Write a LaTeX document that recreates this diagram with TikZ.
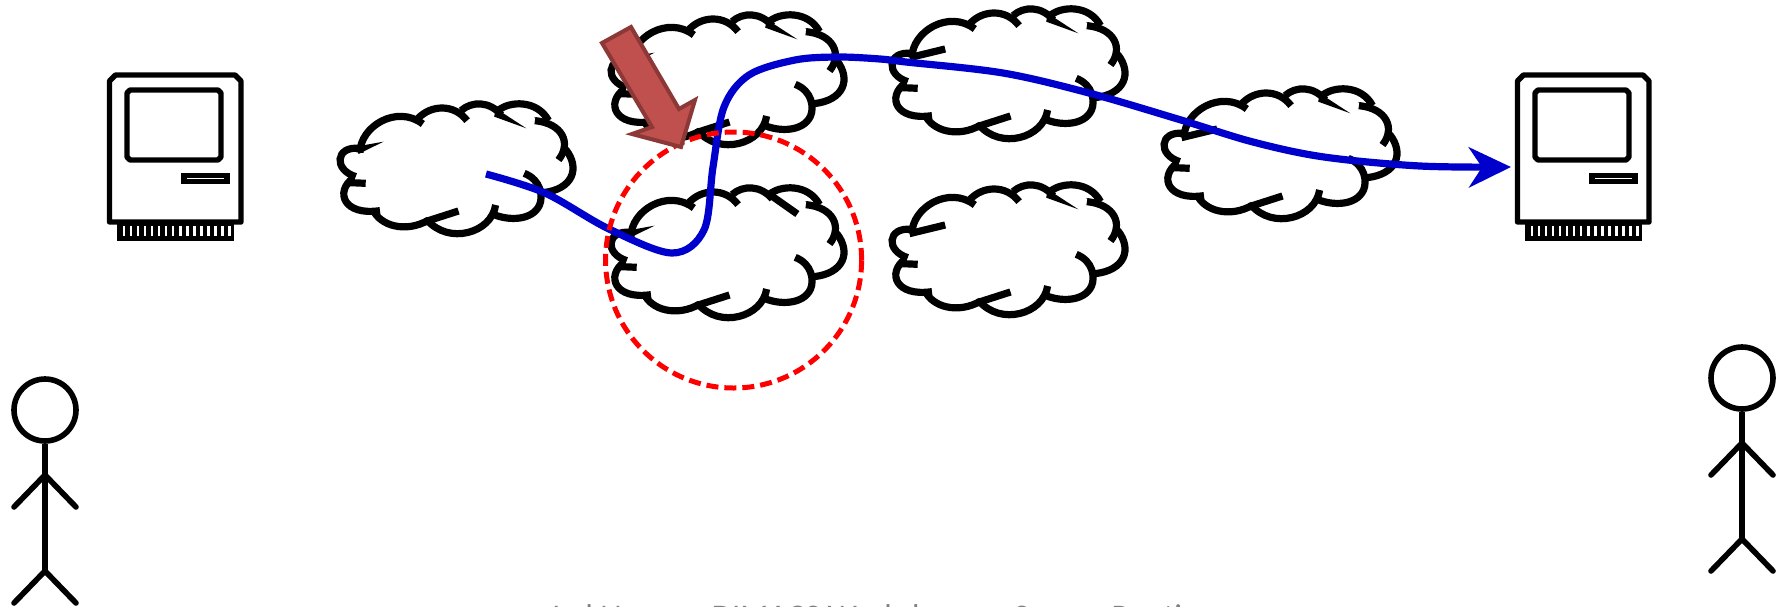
\documentclass[tikz,border=0pt]{standalone}
\usepackage{fontspec}
\setmainfont{Carlito}
\usetikzlibrary{arrows.meta}
\definecolor{blueline}{RGB}{0,0,204}
\definecolor{blockfill}{RGB}{192,80,77}
\definecolor{blockedge}{RGB}{140,56,54}
\tikzset{
  outline/.style={draw=black,line width=7.2pt,line cap=butt},
  spike/.style={fill=black,draw=none},
  macline/.style={draw=black,line width=5.4pt,line join=round},
  stick/.style={draw=black,line width=5.6pt,line cap=round},
  route/.style={draw=blueline,line width=7.2pt,-{Stealth[length=42pt,width=40pt,inset=13pt]}},
  ring/.style={draw=red,line width=5pt,dash pattern=on 12pt off 6pt,circle,minimum size=256pt,inner sep=0pt},
  block/.style={fill=blockfill,draw=blockedge,line width=4pt,line join=miter},
  credit/.style={text=black!50,font=\fontsize{33}{34}\selectfont,inner sep=0pt,anchor=base west}
}
% cloud drawn in its own pixel frame; #3 = left mark, #4 = upper right mark
\newcommand{\cloudlobes}[4]{%
\begin{scope}[shift={(#1,#2)},x=0.357pt,y=-0.3333pt]
  \draw[outline] (112,458) .. controls (112,380) and (215,312) .. (288,372);
  \draw[outline] (275,355) .. controls (310,315) and (375,310) .. (412,362);
  \draw[outline] (395,332) .. controls (425,303) and (475,303) .. (508,345);
  \draw[outline] (495,335) .. controls (530,300) and (610,300) .. (640,362);
  \draw[outline] (602,362) .. controls (680,370) and (705,430) .. (668,480);
  \draw[outline] (688,448) .. controls (730,505) and (708,568) .. (625,578);
  \draw[outline] (572,520) .. controls (620,540) and (625,590) .. (615,615) .. controls (595,662) and (530,662) .. (490,645);
  \draw[outline] (492,615) .. controls (480,700) and (360,735) .. (300,660);
  \draw[outline] (388,633) -- (295,665);
  \draw[outline] (305,660) .. controls (240,700) and (168,678) .. (148,628);
  \draw[outline] (168,632) .. controls (65,648) and (42,575) .. (92,535);
  \draw[outline] (128,550) -- (85,548);
  \draw[outline] (100,530) .. controls (38,510) and (42,438) .. (110,445);
  #3
  #4
  \fill[spike] (600,352) -- (640,358) -- (625,372) -- cycle;
\end{scope}}
\newcommand{\lefttaper}{\fill[spike] (100,440) -- (178,425) -- (108,462) -- cycle;}
\newcommand{\leftbar}{\draw[outline] (205,432) -- (105,458);}
\newcommand{\toptaper}{\fill[spike] (492,325) -- (578,385) -- (488,350) -- cycle;}
\newcommand{\topstroke}{\draw[outline] (578,390) -- (505,335);}
\newcommand{\macintosh}[1]{%
\begin{scope}[shift={(#1,0)}]
  \fill (117,222) rectangle (234,241);
  \foreach \t in {0,...,15} {\fill[white] ({122.5+\t*7.05},226) rectangle ++(2.6,10);}
  \draw[macline,fill=white] (109.5,222) -- (109.5,81) -- (115.5,75) -- (235,75) -- (241,81) -- (241,222) -- cycle;
  \draw[macline] (130,90) -- (218,90) -- (221,93) -- (221,157) -- (218,160) -- (130,160) -- (127,157) -- (127,93) -- cycle;
  \fill (181,173) rectangle (230,184);
  \draw[white,line width=0.4pt] (187,178.5) -- (224,178.5);
\end{scope}}
\newcommand{\stickman}[3]{%
\begin{scope}[shift={(#1,#2)}]
  \node[draw=black,line width=5.6pt,circle,minimum size=62pt,inner sep=0pt] (#3head) at (45,410) {};
  \coordinate (#3hip) at (45,571);
  \coordinate (#3arm) at (45,475);
  \coordinate (#3la) at (14,507);
  \coordinate (#3ra) at (76,507);
  \coordinate (#3ll) at (14,603);
  \coordinate (#3rl) at (76,603);
  \draw[stick,line cap=butt] (#3head.south) -- (#3hip);
  \draw[stick] (#3la) -- (#3arm) -- (#3ra);
  \draw[stick] (#3ll) -- (#3hip) -- (#3rl);
\end{scope}}
\begin{document}
\begin{tikzpicture}[x=1pt,y=-1pt]
\useasboundingbox (0,0) rectangle (1786,606);
\macintosh{0}
\macintosh{1408}
\stickman{0}{0}{pa}
\stickman{1697}{-32}{pb}
\cloudlobes{320}{0}{\lefttaper}{\toptaper}
\cloudlobes{591}{-89}{\lefttaper}{\toptaper}
\cloudlobes{591}{84}{\lefttaper}{\topstroke}
\cloudlobes{872}{-95}{\leftbar}{\toptaper}
\cloudlobes{872}{81}{\leftbar}{\toptaper}
\cloudlobes{1144}{-15}{\leftbar}{\toptaper}
\coordinate (routestart) at (486,174);
\coordinate (routeend) at (1511,167);
\draw[route] plot[smooth,tension=0.55] coordinates {(routestart) (545,193) (609,229) (672,253) (704,230) (713,167) (724,107) (749,75) (795,60) (838,57) (880,59) (906,62) (1003,73) (1089,93) (1181,120) (1253,142) (1324,157) (1420,166) (routeend)};
\node[ring] (hijack) at (733.6,260) {};
\draw[block] (602,43) -- (631,27) -- (679,109) -- (695,100) -- (681,147) -- (632,134) -- (652,127) -- cycle;
\begin{scope}
\clip (0,0) rectangle (1786,606);
\node[credit] (creditline) at (549,627) {Jad Naous,\hspace{11pt} DIMACS Workshop on Secure Routing};
\end{scope}
\end{tikzpicture}
\end{document}
